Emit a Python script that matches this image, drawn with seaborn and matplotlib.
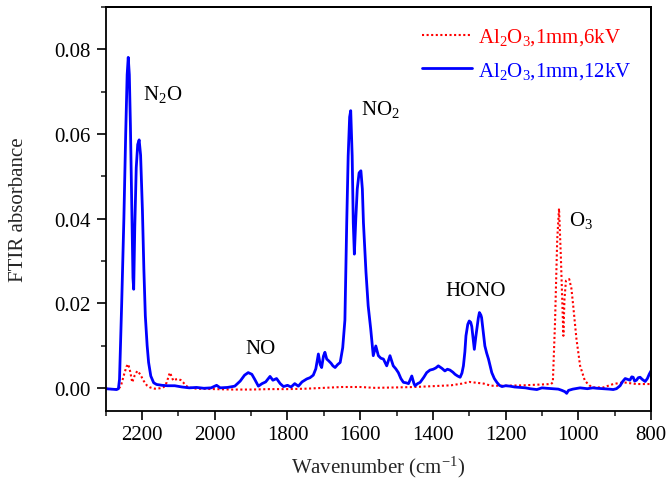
import numpy as np
import pandas as pd
import matplotlib
matplotlib.use("Agg")
import matplotlib.pyplot as plt
from matplotlib.ticker import MultipleLocator, FormatStrFormatter
from matplotlib.lines import Line2D
import seaborn as sns

# ---- data ----
x_12kv = [2300, 2285, 2270, 2265, 2262, 2256, 2250, 2245, 2241, 2238, 2235, 2232, 2228, 2225, 2223,
          2220, 2216, 2212, 2208, 2204, 2199, 2195, 2191, 2186, 2182, 2176, 2168, 2160, 2145, 2130,
          2110, 2090, 2070, 2050, 2030, 2010, 1995, 1985, 1965, 1945, 1930, 1918, 1908, 1898, 1890,
          1880, 1870, 1860, 1848, 1840, 1830, 1820, 1811, 1800, 1790, 1780, 1770, 1760, 1747, 1738,
          1729, 1722, 1715, 1710, 1706, 1701, 1697, 1692, 1688, 1680, 1675, 1669, 1662, 1655, 1648,
          1642, 1637, 1633, 1629, 1626, 1622, 1619, 1616, 1612, 1608, 1603, 1598, 1594, 1591, 1584,
          1578, 1571, 1564, 1557, 1550, 1543, 1536, 1527, 1518, 1509, 1502, 1495, 1488, 1481, 1474,
          1467, 1458, 1452, 1449, 1442, 1435, 1425, 1417, 1408, 1399, 1392, 1385, 1375, 1367, 1360,
          1353, 1345, 1339, 1332, 1325, 1320, 1316, 1312, 1309, 1304, 1300, 1296, 1293, 1289, 1286,
          1282, 1279, 1275, 1272, 1268, 1266, 1261, 1257, 1252, 1247, 1242, 1238, 1231, 1224, 1217,
          1210, 1200, 1188, 1175, 1160, 1145, 1133, 1114, 1100, 1087, 1070, 1055, 1045, 1037, 1032,
          1027, 1015, 995, 975, 960, 949, 930, 915, 904, 895, 885, 878, 871, 864, 858,
          853, 849, 845, 840, 835, 830, 824, 816, 810, 805, 800]
y_12kv = [-0.0002, -0.0003, -0.0004, -0.0002, 0.0020, 0.0200, 0.0400, 0.0600, 0.0740, 0.0781, 0.0740, 0.0620, 0.0420, 0.0260, 0.0233,
          0.0380, 0.0520, 0.0575, 0.0586, 0.0550, 0.0420, 0.0280, 0.0170, 0.0100, 0.0060, 0.0028, 0.0012, 0.0008, 0.0006, 0.0005,
          0.0005, 0.0002, 0.0000, 0.0001, -0.0001, 0.0000, 0.0006, 0.0000, 0.0001, 0.0004, 0.0016, 0.0030, 0.0036, 0.0032, 0.0020,
          0.0004, 0.0010, 0.0014, 0.0027, 0.0018, 0.0022, 0.0010, 0.0003, 0.0006, 0.0002, 0.0010, 0.0004, 0.0014, 0.0021, 0.0024,
          0.0030, 0.0045, 0.0080, 0.0055, 0.0048, 0.0075, 0.0084, 0.0068, 0.0065, 0.0058, 0.0052, 0.0048, 0.0055, 0.0060, 0.0095,
          0.0160, 0.0390, 0.0548, 0.0640, 0.0655, 0.0548, 0.0390, 0.0316, 0.0400, 0.0470, 0.0508, 0.0513, 0.0470, 0.0390, 0.0273,
          0.0194, 0.0139, 0.0076, 0.0099, 0.0076, 0.0070, 0.0068, 0.0052, 0.0076, 0.0052, 0.0045, 0.0036, 0.0022, 0.0013, 0.0012,
          0.0010, 0.0028, 0.0010, 0.0005, 0.0010, 0.0013, 0.0025, 0.0036, 0.0042, 0.0044, 0.0047, 0.0052, 0.0046, 0.0040, 0.0044,
          0.0042, 0.0037, 0.0032, 0.0028, 0.0025, 0.0035, 0.0052, 0.0085, 0.0123, 0.0150, 0.0158, 0.0155, 0.0145, 0.0115, 0.0091,
          0.0120, 0.0139, 0.0165, 0.0178, 0.0172, 0.0166, 0.0130, 0.0099, 0.0082, 0.0068, 0.0050, 0.0036, 0.0022, 0.0013, 0.0006,
          0.0003, 0.0005, 0.0004, 0.0002, 0.0001, 0.0000, -0.0002, -0.0004, 0.0000, -0.0001, -0.0002, -0.0003, -0.0006, -0.0009, -0.0013,
          -0.0006, -0.0003, 0.0000, -0.0002, 0.0000, -0.0001, -0.0002, -0.0003, -0.0004, -0.0002, 0.0005, 0.0015, 0.0022, 0.0020, 0.0018,
          0.0026, 0.0025, 0.0016, 0.0018, 0.0024, 0.0025, 0.0020, 0.0015, 0.0022, 0.0032, 0.0040]

x_6kv = [2300, 2280, 2265, 2258, 2250, 2243, 2238, 2233, 2227, 2220, 2213, 2205, 2196, 2187, 2178,
         2165, 2151, 2140, 2132, 2126, 2123, 2118, 2114, 2107, 2100, 2093, 2087, 2080, 2073, 2050,
         2000, 1950, 1900, 1850, 1800, 1750, 1700, 1650, 1600, 1560, 1500, 1450, 1400, 1350, 1320,
         1300, 1280, 1260, 1240, 1200, 1150, 1100, 1075, 1070, 1064, 1058, 1053, 1048, 1041, 1038,
         1034, 1029, 1025, 1019, 1014, 1005, 995, 982, 970, 959, 931, 904, 876, 840, 803, 800]
y_6kv = [-0.0002, -0.0003, -0.0003, 0.0005, 0.0030, 0.0050, 0.0056, 0.0040, 0.0013, 0.0030, 0.0040, 0.0032, 0.0017, 0.0006, 0.0001,
         -0.0002, -0.0001, 0.0002, 0.0013, 0.0030, 0.0036, 0.0025, 0.0017, 0.0020, 0.0021, 0.0018, 0.0013, 0.0006, 0.0001, -0.0002,
         -0.0003, -0.0004, -0.0004, -0.0003, -0.0003, -0.0002, 0.0000, 0.0002, 0.0002, 0.0000, 0.0001, 0.0002, 0.0004, 0.0006, 0.0010,
         0.0014, 0.0012, 0.0010, 0.0005, 0.0005, 0.0006, 0.0008, 0.0009, 0.0013, 0.0155, 0.0350, 0.0424, 0.0310, 0.0123, 0.0210,
         0.0253, 0.0255, 0.0257, 0.0235, 0.0194, 0.0115, 0.0052, 0.0017, 0.0006, 0.0001, 0.0001, 0.0009, 0.0013, 0.0009, 0.0009, 0.0009]

series_labels = [r"Al$_2$O$_3$,1mm,6kV", r"Al$_2$O$_3$,1mm,12kV"]
series_colors = ["#ff0000", "#0000ff"]

peak_labels = [r"N$_2$O", "NO", r"NO$_2$", "HONO", r"O$_3$"]
peak_x = [2197, 1873, 1598, 1282, 1025]
peak_y = [0.0695, 0.0092, 0.0660, 0.0229, 0.0397]
peak_ha = ["left", "center", "left", "center", "left"]

x_ticks = [2200, 2000, 1800, 1600, 1400, 1200, 1000, 800]
y_ticks = [0.00, 0.02, 0.04, 0.06, 0.08]

# ---- build table ----
df = pd.concat([
    pd.DataFrame({"x": x_6kv, "y": y_6kv, "series": series_labels[0]}),
    pd.DataFrame({"x": x_12kv, "y": y_12kv, "series": series_labels[1]}),
], ignore_index=True)

sns.set_style("ticks")
plt.rcParams["font.family"] = ["Liberation Serif", "DejaVu Serif"]
plt.rcParams["mathtext.fontset"] = "custom"
plt.rcParams["mathtext.rm"] = "Liberation Serif"
plt.rcParams["mathtext.it"] = "Liberation Serif:italic"
plt.rcParams["mathtext.default"] = "regular"

fig = plt.figure(figsize=(6.67, 4.85), dpi=100)
ax_l, ax_b = 105.7 / 667, 1 - 411.7 / 485
ax_w, ax_h = (651 - 105.7) / 667, (411.7 - 8) / 485
ax = fig.add_axes([ax_l, ax_b, ax_w, ax_h])

sns.lineplot(data=df, x="x", y="y", hue="series", style="series",
             hue_order=series_labels, style_order=series_labels,
             palette=dict(zip(series_labels, series_colors)),
             dashes={series_labels[0]: (1, 1.2), series_labels[1]: ""},
             sort=False, estimator=None, ax=ax, legend=True)

for line, lw in zip(ax.lines[:2], [1.5, 2.0]):
    line.set_linewidth(lw)

ax.set_xlim(2300, 800)
ax.set_ylim(-0.0054, 0.090)
ax.set_xticks(x_ticks)
ax.set_yticks(y_ticks)
ax.xaxis.set_minor_locator(MultipleLocator(100))
ax.yaxis.set_minor_locator(MultipleLocator(0.01))
ax.yaxis.set_major_formatter(FormatStrFormatter("%.2f"))

ax.tick_params(axis="both", which="major", direction="out", length=6.5, width=1.2,
               labelsize=15, colors="black", pad=4)
ax.tick_params(axis="both", which="minor", direction="out", length=3.5, width=1.2)
ax.tick_params(axis="x", which="both", top=False)
ax.tick_params(axis="y", which="both", right=False)
for s in ["top", "right", "left", "bottom"]:
    ax.spines[s].set_visible(True)
    ax.spines[s].set_linewidth(1.3)
    ax.spines[s].set_edgecolor("black")

# frame edges also drawn at figure level (top and right)
fig.add_artist(Line2D([ax_l, ax_l + ax_w], [ax_b + ax_h, ax_b + ax_h],
                      transform=fig.transFigure, color="black", linewidth=1.4,
                      solid_capstyle="projecting", zorder=10))
fig.add_artist(Line2D([ax_l + ax_w, ax_l + ax_w], [ax_b, ax_b + ax_h],
                      transform=fig.transFigure, color="black", linewidth=1.4,
                      solid_capstyle="projecting", zorder=10))

ax.set_xlabel(r"Wavenumber (cm$^{-1}$)", fontsize=15, labelpad=7)
ax.set_ylabel("FTIR absorbance", fontsize=15, labelpad=19)

for t, x, y, ha in zip(peak_labels, peak_x, peak_y, peak_ha):
    ax.text(x, y, t, ha=ha, va="center", fontsize=15, color="black")

handles, labels = ax.get_legend_handles_labels()
leg = ax.legend(handles, labels, loc="upper left", bbox_to_anchor=(0.5795, 0.952),
                frameon=False, fontsize=15, handlelength=2.4, handletextpad=0.3,
                labelspacing=0.62, borderpad=0, borderaxespad=0, labelcolor="linecolor")
for lh, lw in zip(leg.get_lines(), [1.5, 2.0]):
    lh.set_linewidth(lw)

fig.savefig("out.png", dpi=100)
